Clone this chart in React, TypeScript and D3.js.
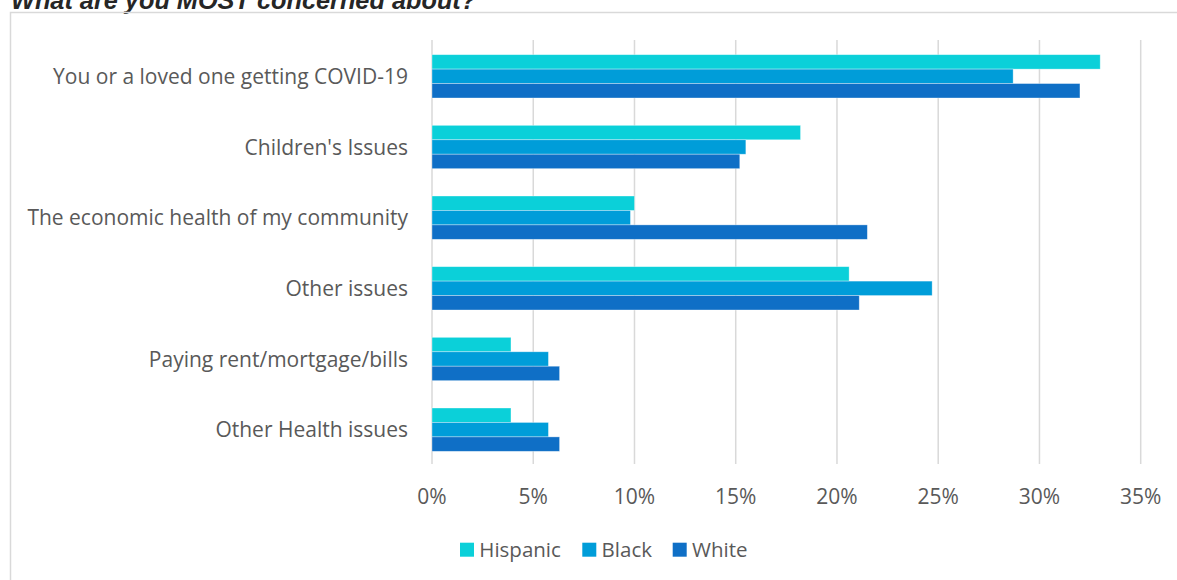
import React from "react";
import * as d3 from "d3";

const categories = [
  "You or a loved one getting COVID-19",
  "Children's Issues",
  "The economic health of my community",
  "Other issues",
  "Paying rent/mortgage/bills",
  "Other Health issues",
];
const seriesNames = ["Hispanic", "Black", "White"];
const hispanic = [33.0, 18.2, 10.0, 20.6, 3.9, 3.9];
const black = [28.7, 15.5, 9.8, 24.7, 5.75, 5.75];
const white = [32.0, 15.2, 21.5, 21.1, 6.3, 6.3];
const xTicks = [0, 5, 10, 15, 20, 25, 30, 35];
const colors = ["#0BD0D9", "#009DD9", "#0F6FC6"];

const W = 1177;
const H = 580;
const FONT = "'Open Sans', sans-serif";

export default function App() {
  const series = [hispanic, black, white];
  const x = d3.scaleLinear().domain([0, 35]).range([432, 1140.7]);
  const y = d3
    .scaleBand<string>()
    .domain(categories)
    .range([41, 465])
    .paddingInner(0.387)
    .paddingOuter(0.1935);
  const inner = d3
    .scaleBand<string>()
    .domain(seriesNames)
    .range([0, y.bandwidth()]);

  const legendX = [460, 582.3, 672.7];

  return (
    <svg
      width={W}
      height={H}
      style={{ position: "absolute", left: 0, top: 0, background: "#fff" }}
    >
      <text
        x={11}
        y={9}
        fontFamily="'Liberation Sans', Arial, sans-serif"
        fontWeight="bold"
        fontStyle="italic"
        fontSize={25.3}
        fill="#262626"
      >
        What are you MOST concerned about?
      </text>
      <rect
        x={10.5}
        y={12.5}
        width={W + 20}
        height={H + 20}
        fill="none"
        stroke="#d9d9d9"
        strokeWidth={1.5}
      />
      {xTicks.map((t) => (
        <g key={t}>
          <line
            x1={x(t)}
            x2={x(t)}
            y1={40}
            y2={464}
            stroke="#d9d9d9"
            strokeWidth={1.5}
          />
          <text
            x={x(t)}
            y={504}
            textAnchor="middle"
            fontFamily={FONT}
            fontSize={21}
            fill="#595959"
          >
            {t}%
          </text>
        </g>
      ))}
      {categories.map((c, i) => (
        <g key={c}>
          {series.map((s, j) => (
            <rect
              key={j}
              x={x(0)}
              y={(y(c) as number) + (inner(seriesNames[j]) as number)}
              width={x(s[i]) - x(0)}
              height={inner.bandwidth()}
              fill={colors[j]}
              stroke="#ffffff"
              strokeOpacity={0.45}
              strokeWidth={0.75}
            />
          ))}
          <text
            x={408}
            y={(y(c) as number) + y.bandwidth() / 2 + 7.5}
            textAnchor="end"
            fontFamily={FONT}
            fontSize={21}
            fill="#595959"
          >
            {c}
          </text>
        </g>
      ))}
      {seriesNames.map((n, j) => (
        <g key={n}>
          <rect x={legendX[j]} y={542.7} width={14} height={14} fill={colors[j]} />
          <text
            x={legendX[j] + 19.3}
            y={557}
            fontFamily={FONT}
            fontSize={20.5}
            fill="#595959"
          >
            {n}
          </text>
        </g>
      ))}
    </svg>
  );
}
